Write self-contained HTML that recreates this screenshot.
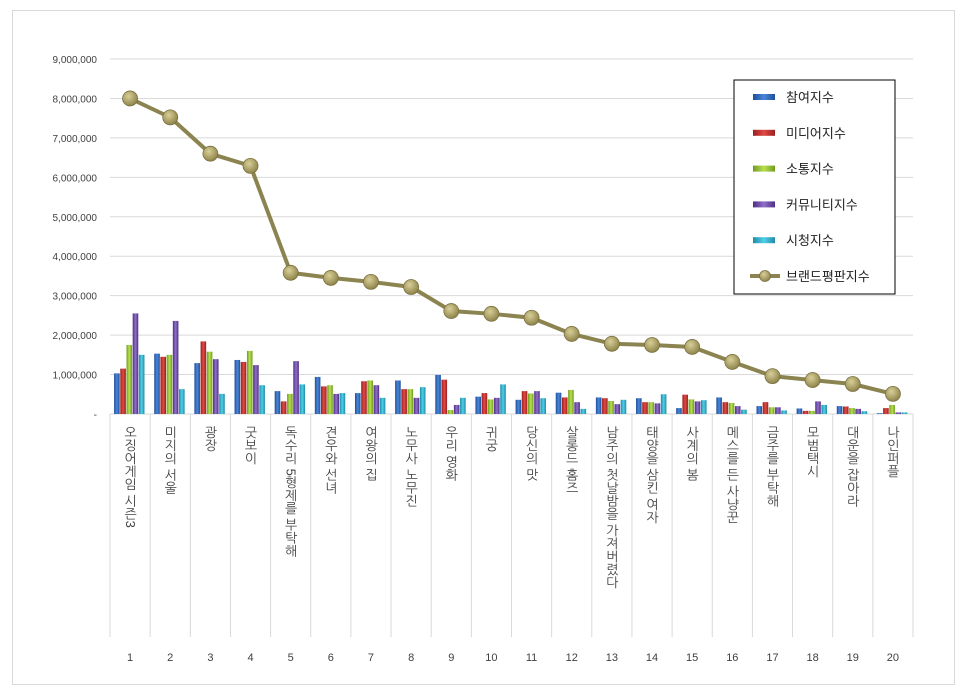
<!DOCTYPE html>
<html><head><meta charset="utf-8">
<style>
body{margin:0;background:#fff;width:966px;height:695px;overflow:hidden;font-family:"Liberation Sans","Noto Sans CJK KR",sans-serif;}
#frame{position:absolute;left:12px;top:10px;width:941px;height:673px;border:1px solid #d9d9d9;}
.lab{position:absolute;writing-mode:vertical-rl;font-size:13px;color:#404040;top:426px;line-height:14px;font-family:"Liberation Sans","NanumGothic",sans-serif;}
</style></head><body>
<div id="frame"></div>
<svg id="chart" width="966" height="695" style="position:absolute;left:0;top:0">
<defs>
<linearGradient id="g0" x1="0" x2="1"><stop offset="0" stop-color="#1f4f9a"/><stop offset="0.5" stop-color="#4a86d8"/><stop offset="1" stop-color="#1f4f9a"/></linearGradient>
<linearGradient id="g1" x1="0" x2="1"><stop offset="0" stop-color="#9a1f1f"/><stop offset="0.5" stop-color="#e04a44"/><stop offset="1" stop-color="#9a1f1f"/></linearGradient>
<linearGradient id="g2" x1="0" x2="1"><stop offset="0" stop-color="#6f9a1f"/><stop offset="0.5" stop-color="#b8e050"/><stop offset="1" stop-color="#6f9a1f"/></linearGradient>
<linearGradient id="g3" x1="0" x2="1"><stop offset="0" stop-color="#4f2f85"/><stop offset="0.5" stop-color="#9070c8"/><stop offset="1" stop-color="#4f2f85"/></linearGradient>
<linearGradient id="g4" x1="0" x2="1"><stop offset="0" stop-color="#1f8aa5"/><stop offset="0.5" stop-color="#50cfe8"/><stop offset="1" stop-color="#1f8aa5"/></linearGradient>
<radialGradient id="gm" cx="0.4" cy="0.35" r="0.7"><stop offset="0" stop-color="#d8cf98"/><stop offset="1" stop-color="#8a7f45"/></radialGradient>
</defs>
</svg>
<div id="labels"></div>
<script>
const categories=["오징어게임 시즌3","미지의 서울","광장","굿보이","독수리 5형제를 부탁해","견우와 선녀","여왕의 집","노무사 노무진","우리 영화","귀궁","당신의 맛","살롱드 홈즈","남주의 첫날밤을 가져버렸다","태양을 삼킨 여자","사계의 봄","메스를 든 사냥꾼","금주를 부탁해","모범택시","대운을 잡아라","나인퍼플"];
const seriesNames=["참여지수","미디어지수","소통지수","커뮤니티지수","시청지수"];
const participation=[1030000,1530000,1290000,1370000,580000,940000,530000,850000,990000,440000,360000,540000,420000,400000,150000,420000,200000,140000,200000,20000];
const media=[1150000,1450000,1840000,1320000,320000,700000,830000,630000,870000,530000,580000,420000,400000,300000,490000,300000,300000,80000,190000,150000];
const communication=[1750000,1500000,1580000,1600000,510000,730000,850000,630000,100000,370000,520000,610000,330000,300000,370000,280000,170000,80000,150000,230000];
const community=[2550000,2360000,1390000,1240000,1340000,510000,730000,410000,230000,410000,580000,300000,250000,270000,320000,200000,170000,320000,130000,40000];
const viewing=[1500000,630000,510000,730000,750000,530000,410000,680000,410000,750000,400000,130000,360000,500000,350000,110000,90000,230000,70000,40000];
const brandIndex=[8000000,7520000,6600000,6290000,3580000,3450000,3350000,3220000,2610000,2540000,2440000,2030000,1780000,1750000,1700000,1320000,960000,860000,760000,510000];
const yTicks=[0,1000000,2000000,3000000,4000000,5000000,6000000,7000000,8000000,9000000];

const NS="http://www.w3.org/2000/svg";
const svg=document.getElementById('chart');
const X0=110,X1=913,Y0=414,Y9=59,YMAX=9000000;
const bw=(X1-X0)/categories.length;
function y(v){return Y0-(v/YMAX)*(Y0-Y9);}
function cx(i){return X0+bw*(i+0.5);}
function mk(tag,attrs){const e=document.createElementNS(NS,tag);for(const k in attrs)e.setAttribute(k,attrs[k]);svg.appendChild(e);return e;}

yTicks.forEach(t=>{
  if(t>0){const g=mk('line',{x1:X0,x2:X1,y1:y(t),y2:y(t),stroke:'#d9d9d9','stroke-width':1});
  
  }
  const tx=mk('text',{x:97,y:y(t)+4,'text-anchor':'end','font-size':10,fill:'#404040'});
  tx.textContent=t===0?'-':t.toLocaleString('en-US');
  
  
});
for(let i=0;i<=categories.length;i++){
  const xx=X0+bw*i;
  const l=mk('line',{x1:xx,x2:xx,y1:Y0,y2:637,stroke:'#d9d9d9','stroke-width':1});
  
  
}
const axis=mk('line',{x1:X0,x2:X1,y1:Y0,y2:Y0,stroke:'#d9d9d9'});



const series=[participation,media,communication,community,viewing];
series.forEach((s,si)=>{
  s.forEach((v,i)=>{
    const bx=cx(i)-16+si*6.2;
    const r=mk('rect',{x:bx,y:y(v),width:5.6,height:Y0-y(v),fill:'url(#g'+si+')'});
    
    
  });
});
const pts=brandIndex.map((v,i)=>cx(i)+','+y(v)).join(' ');
const pl=mk('polyline',{points:pts,fill:'none',stroke:'#8c8450','stroke-width':4});


brandIndex.forEach((v,i)=>{
  const c=mk('circle',{cx:cx(i),cy:y(v),r:7.5,fill:'url(#gm)',stroke:'#7a7040','stroke-width':0.8});
  
  
});

const labs=document.getElementById('labels');
categories.forEach((c,i)=>{
  const d=document.createElement('div');
  d.className='lab';d.textContent=c;
  d.style.left=(cx(i)-7)+'px';
  
  
  labs.appendChild(d);
  const n=mk('text',{x:cx(i),y:661,'text-anchor':'middle','font-size':11,fill:'#404040'});
  n.textContent=String(i+1);
  
  
});

const lg=mk('rect',{x:734,y:80,width:161,height:214,fill:'#fff',stroke:'#000','stroke-width':1});


const legNames=seriesNames.concat(['브랜드평판지수']);
legNames.forEach((n,k)=>{
  const ly=97+k*35.8;
  if(k<5){
    const r=mk('rect',{x:753,y:ly-3,width:22,height:6,fill:'url(#g'+k+')'});
    
    
  }else{
    const l=mk('line',{x1:750,x2:780,y1:ly,y2:ly,stroke:'#8c8450','stroke-width':4});
    
    
    const c=mk('circle',{cx:765,cy:ly,r:5.5,fill:'url(#gm)',stroke:'#7a7040','stroke-width':0.8});
    
    
  }
  const t=mk('text',{x:786,y:ly+5,'font-size':13,fill:'#222'});
  t.textContent=n;
  
  
});
</script>
</body></html>
